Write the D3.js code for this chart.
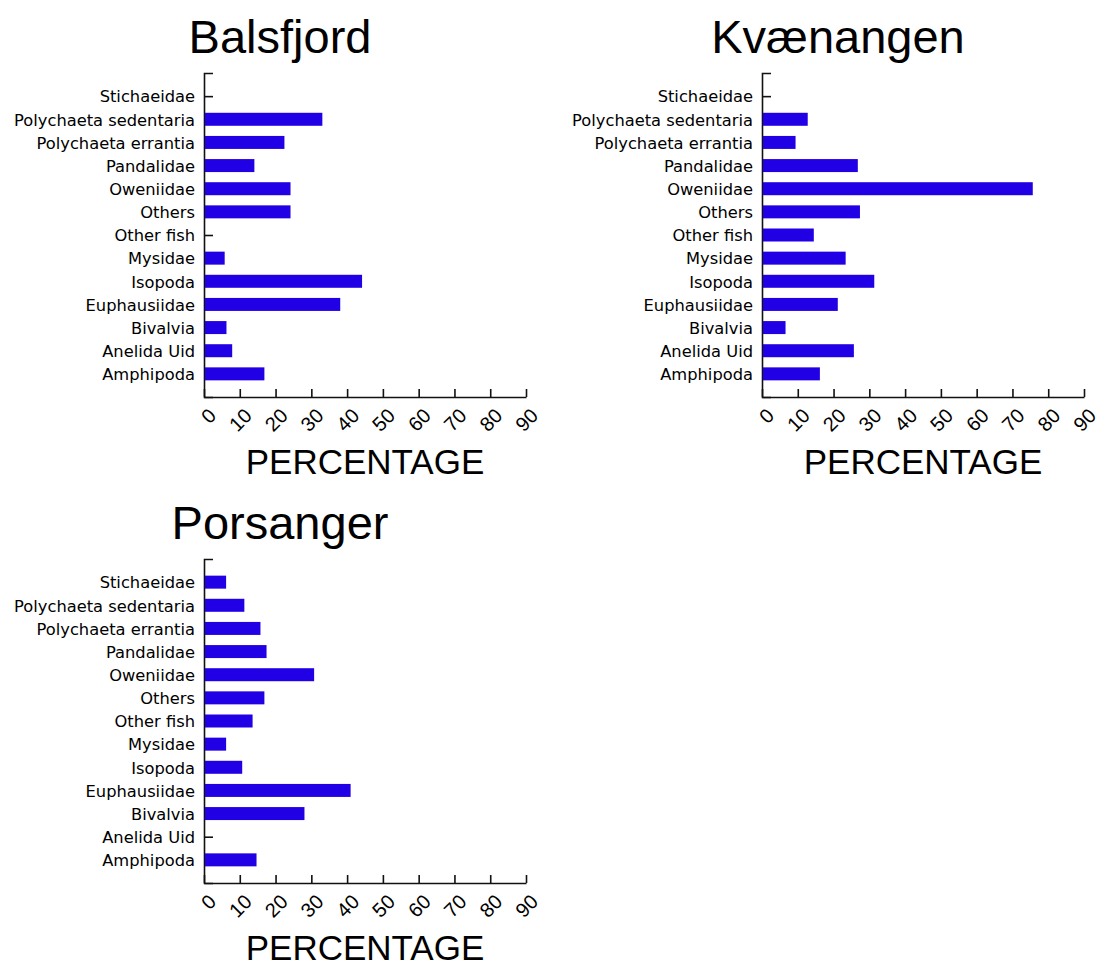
<!DOCTYPE html>
<html>
<head>
<meta charset="utf-8">
<script src="https://cdn.jsdelivr.net/npm/d3@7"></script>
<style>
  body { margin: 0; background: #fff; }
  svg { display: block; }
</style>
</head>
<body>
<div id="chart"></div>
<script>
// prey categories, top to bottom as drawn
var categories = ["Stichaeidae", "Polychaeta sedentaria", "Polychaeta errantia", "Pandalidae",
    "Oweniidae", "Others", "Other fish", "Mysidae", "Isopoda", "Euphausiidae",
    "Bivalvia", "Anelida Uid", "Amphipoda"];

var xTicks = [0, 10, 20, 30, 40, 50, 60, 70, 80, 90];

var balsfjordValues  = [0, 32.8, 22.2, 13.8, 23.9, 23.9, 0, 5.5, 43.9, 37.8, 6.0, 7.6, 16.6];
var kvaenangenValues = [0, 12.5, 9.1, 26.5, 75.4, 27.1, 14.2, 23.1, 31.1, 20.9, 6.3, 25.4, 15.9];
var porsangerValues  = [5.9, 11.0, 15.5, 17.2, 30.5, 16.6, 13.3, 5.9, 10.4, 40.7, 27.8, 0, 14.4];

var panels = [
    {title: "Balsfjord",  values: balsfjordValues,  left: 204, top: 73},
    {title: "Kvænangen",  values: kvaenangenValues, left: 762, top: 73},
    {title: "Porsanger",  values: porsangerValues,  left: 204, top: 559}
];

var width = 322, height = 324;
var barColor = "#2200e6";

var svg = d3.select("#chart")
    .append("svg")
    .attr("width", 1098)
    .attr("height", 964);

panels.forEach(function(p){

    var g = svg.append("g")
        .attr("transform", "translate(" + p.left + "," + p.top + ")");

    var x = d3.scaleLinear()
        .domain([0, 90])
        .range([0, width]);

    var y = d3.scalePoint()
        .domain(categories)
        .range([0, height])
        .padding(1);

    // y axis, ticks pointing into the plot
    var yAxis = d3.axisLeft(y)
        .tickSizeInner(-9)
        .tickSizeOuter(-9)
        .tickPadding(9);

    var yAxisGroup = g.append("g")
        .attr("class", "y-axis")
        .call(yAxis);

    yAxisGroup.selectAll("path, line")
        .style("stroke", "#111")
        .style("stroke-width", 1.6);

    yAxisGroup.selectAll("text")
        .attr("font-family", "'DejaVu Sans', sans-serif")
        .attr("font-size", 16.3)
        .attr("dy", "0.35em")
        .style("fill", "#000");

    var data = categories.map(function(c, i){ return {cat: c, value: p.values[i]}; });

    g.selectAll(".bar")
        .data(data.filter(function(d){ return d.value > 0; }))
        .enter().append("rect")
        .attr("class", "bar")
        .attr("x", 1)
        .attr("y", function(d){ return y(d.cat) - 6.5; })
        .attr("width", function(d){ return x(d.value); })
        .attr("height", 13)
        .style("fill", barColor);

    // x axis, ticks pointing up
    var xAxis = d3.axisBottom(x)
        .tickValues(xTicks)
        .tickSizeInner(-8)
        .tickSizeOuter(0);

    var xAxisGroup = g.append("g")
        .attr("class", "x-axis")
        .attr("transform", "translate(0," + height + ")")
        .call(xAxis);

    xAxisGroup.selectAll("path, line")
        .style("stroke", "#111")
        .style("stroke-width", 1.6);

    xAxisGroup.selectAll("text")
        .attr("font-family", "'Liberation Sans', Arial, sans-serif")
        .attr("font-size", 20)
        .attr("x", 0)
        .attr("y", 0)
        .attr("dy", "0.35em")
        .attr("text-anchor", "end")
        .attr("transform", "translate(8,15) rotate(-45)")
        .style("fill", "#000");

    g.append("text")
        .attr("x", width / 2)
        .attr("y", height + 77)
        .attr("text-anchor", "middle")
        .attr("font-family", "'Liberation Sans', Arial, sans-serif")
        .attr("font-size", 35)
        .text("PERCENTAGE");

    g.append("text")
        .attr("x", 76)
        .attr("y", -20)
        .attr("text-anchor", "middle")
        .attr("font-family", "'Liberation Sans', Arial, sans-serif")
        .attr("font-size", 47)
        .text(p.title);
});
</script>
</body>
</html>
